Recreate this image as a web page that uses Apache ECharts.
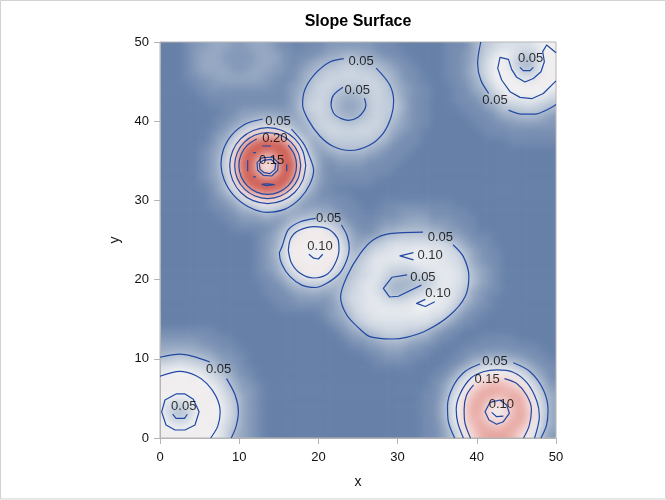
<!DOCTYPE html>
<html>
<head>
<meta charset="utf-8">
<style>html,body{margin:0;padding:0;background:#fff}#c{width:666px;height:500px}</style>
<script src="https://cdn.jsdelivr.net/npm/echarts@6/dist/echarts.min.js"></script>
</head>
<body>
<div id="c"></div>
<script>
// Surface values, in hundredths (one base-36 character per 1x1 cell), top row y=49-50 first
var surfaceRows = [
"000 12233322333 211 0 111 222222 111 000000 111356788889ab",
"000 12333222233 321 111 2 33 44 33 2 111 00000 1123579a9767ab",
"000 12333222233 321 1 2344566 5443 2 11 0000 112368ab8547ab",
"000 12333322333 221 2 3456677 6654 3 2 11 000 112468ab9657ab",
"000 11223333332 211 2 4567777 7765 4 2 11 000 112358aba989bb",
"000 01122222222 112 3 4677666 6776 4 3 21 1 00 0113469abbbbba",
"000 00111111111 112 3 5676544 5676 5 3 21 1 00 01123579aabaa8",
"000000 11111111 112 4 6776433 4676 6 4 21 1 00 01112457889876",
"00000000 112222 222 4 6776433 4676 6 4 21 1 00 00111235566654",
"0000000 1123344 433 3 5676544 5676 5 3 21 1 00 00011123344432",
"0000000 1234678 765 3 4677766 7776 4 3 21 1 00 00001111222222",
"000000 12358bef ec9 5 3567777 7765 3 2 11 0 00 00000111111111",
"000000 1348djmn mke 9 5346666 6654 2 1 11 0 00 00000000111111",
"00000 1236bjoon npk c 7334555 5432 1 1 10 0 00 00000000000000",
"00000 1247emojf inn f 9422333 3221 1 1 00 0 00 00000000000000",
"00000 1248fnnfd emp h a521222 2111 1 0 00 0 00 00000000000000",
"00000 1247emnie gnn g 9421111 1111 0 0 00 0 00 00000000000000",
"00000 1236ckpnm npl d 7421111 1100 0 0 00 0 00 00000000000000",
"000000 1359eknp nlf a 5311000 0000 0 0 00 0 00 00000000000000",
"000000 12359dfh gda 6 3211110 0000 0 0 00 0 00 00000000000000",
"000000 1123579a 975 3 2222111 0001 1 1 11 1 11 10000000000000",
"0000000 1123345 443 3 3433211 1011 1 2 22 2 11 11100000000000",
"00000000 112223 224 5 6665421 1112 2 2 33 3 22 21110000000000",
"000000000 11111 246 8 aba8642 1123 3 4 44 4 33 22110000000000",
"000000000000 12 358 c cccc853 2235 5 6 66 6 65 33211100000000",
"000000000000 12 36a c babca63 3567 8 8 88 8 88 75321100000000",
"000000000000 12 47b c a9acb74 5688 9 9 9a a 99 87532110000000",
"000000000000 12 36a c babca65 6899 9 9 9a 9 99 88632110000000",
"000000000000 12 358 c cccc855 7898 7 7 78 9 99 98743210000000",
"000000000000 11 246 8 aba8646 7897 6 5 56 7 89 99753210000000",
"0000000000000 1 124 5 6665457 8986 4 4 45 5 79 98753210000000",
"0000000000000 1 112 3 3433467 8986 4 4 56 8 99 98632110000000",
"00000000000000 111 2 2222468 8998 7 7 89 a a9 97532100000000",
"00000000000000 011 1 1112357 8999 9 9 9a a 99 86321100000000",
"00000000000000 000 0 0012346 8899 9 9 99 9 88 63211000000000",
"00000000000000 000 0 0001235 6888 8 8 88 8 75 32110000000000",
"11111110000000 000 0 0000123 4567 7 7 66 5 32 11000000000000",
"22222111100000 000 0 0000012 2345 5 5 43 3 21 10001111100000",
"33333221110000 000 0 0000001 1223 3 3 22 1 10 00111111111100",
"45554432211000 000 0 0000000 0112 2 2 11 1 00 01122333221110",
"77877653221000 000 0 0000000 0011 1 1 10 0 00 11245666543211",
"9aaa9875421100 000 0 0000000 0000 0 0 00 0 01 13579aaa975321",
"bbbbba87532100 000 0 0000000 0000 0 0 00 0 11 358adfffdb8531",
"bbbbbba8642210 000 0 0000000 0000 0 0 00 0 12 47beghihgfb742",
"baaabbb9753210 000 0 0000000 0000 0 0 00 1 12 59cgiihhihe953",
"a878abba863210 000 0 0000000 0000 0 0 00 1 13 6afhifefhifb63",
"96569bba863210 000 0 0000000 0000 0 0 00 1 13 6afiheacgigb73",
"a767abba863210 000 0 0000000 0000 0 0 00 1 13 6afhhfcehigb63",
"ba9abbb9753210 000 0 0000000 0000 0 0 00 1 12 59dgihghihea63",
"bbbbbba9743210 000 0 0000000 0000 0 0 00 1 12 47cfhiiihfb842"
];

// Contour lines, in data coordinates
var c2Outer = [[23.2,47.9],[21.5,47.5],[19.6,46],[18.3,44],[18,42.1],[18.7,40.2],[20.2,38.1],[21.9,36.8],[24,36.3],[26.5,37],[28.2,38.5],[29.2,40.6],[29.5,42.5],[29,44.6],[27.3,46.7]];
var c2Inner = [[23.1,44.3],[21.9,43.3],[21.6,42.1],[22.1,40.8],[23.8,40.1],[25,40.5],[25.8,41.4],[26,42.1],[25.8,42.9]];
var c3OuterA = [[40.5,50],[40.1,47.3],[40.5,45.2],[41.5,43.5]];
var c3OuterB = [[44,41.4],[45.67,40.9],[47.35,40.9],[49,41.5],[50,42.1]];
var c3Crescent = [[50,48.65],[48.82,49.62],[48.32,48.78],[48.53,47.5],[48.1,46.25],[47.14,45.4],[46.08,44.95],[45.04,45.54],[44.4,46.55],[44,47.8],[42.93,48.06],[42.64,46.67],[43.14,45.2],[44.19,43.73],[45.46,43.01],[46.93,42.84],[48.4,43.5],[50,45.1]];
var c3Arc = [[45.45,46.8],[45.87,46.38],[46.72,46.38],[47.14,46.8]];
var c1L05 = [[12.97,40.28],[10.9,39.7],[9.05,38.25],[8,36.4],[7.7,34.5],[8.1,32.6],[9.25,30.7],[11.15,29.2],[13.47,28.5],[15.8,28.9],[17.7,30.25],[18.9,32],[19.4,33.8],[18.9,35.5],[18.1,37.2],[16.6,39]];
var c1L10 = [[18.4,34.4],[18.03,36.24],[17,37.8],[15.44,38.83],[13.6,39.2],[11.76,38.83],[10.2,37.8],[9.17,36.24],[8.8,34.4],[9.17,32.56],[10.2,31],[11.76,29.97],[13.6,29.6],[15.44,29.97],[17,31],[18.03,32.56],[18.4,34.4]];
var c1L15 = [[17.77,34.4],[17.45,36],[16.55,37.35],[15.2,38.25],[13.6,38.57],[12,38.25],[10.65,37.35],[9.75,36],[9.43,34.4],[9.75,32.8],[10.65,31.45],[12,30.55],[13.6,30.23],[15.2,30.55],[16.55,31.45],[17.45,32.8],[17.77,34.4]];
var c1L20 = [[12.21,37.76],[11.03,36.97],[10.24,35.79],[9.96,34.4],[10.24,33.01],[11.03,31.83],[12.21,31.04],[13.6,30.76],[14.99,31.04],[16.17,31.83],[16.96,33.01],[17.24,34.4],[16.96,35.79],[16.17,36.97]];
var c1HoleOuter = [[12.84,35.36],[14.19,35.48],[14.94,34.77],[14.86,33.8],[14.1,33.08],[13.05,33.17],[12.33,33.8],[12.25,34.77],[12.84,35.36]];
var c1HoleInner = [[13.05,35.06],[14.02,35.19],[14.61,34.64],[14.52,33.92],[13.89,33.38],[13.17,33.5],[12.63,33.92],[12.54,34.64],[13.05,35.06]];
var c1DashLeft = [[11.07,35.06],[11.07,33.67]];
var c1DashRight = [[16,34.56],[16,33.67]];
var c1DashTop = [[12.92,36.87],[14.02,36.87]];
var c1DashBottom = [[12.84,32.03],[13.47,32.1],[14.44,31.99],[13.47,31.86],[12.84,32.03]];
var c1DotUpper = [[11.76,36.03],[11.91,36.18],[12.06,36.03],[11.91,35.88],[11.76,36.03]];
var c1DotLower = [[11.76,32.96],[11.91,33.11],[12.06,32.96],[11.91,32.81],[11.76,32.96]];
var c4Outer = [[19.66,27.74],[17.7,27.3],[16.2,26.3],[15.4,24.15],[15.07,23.3],[15.4,21.9],[16.4,20.4],[17.9,19.3],[19.6,19],[21,19.5],[22.7,20.8],[23.6,22.5],[23.9,24],[23.6,25.6],[22.9,26.9]];
var c4Ring = [[16.2,23.7],[16.6,22.1],[17.7,20.8],[19.4,20.2],[21,20.6],[22,21.8],[22.6,23.7],[22.5,25],[21.4,26.3],[19.5,26.7],[17.5,26.2],[16.5,25.2],[16.2,23.7]];
var c4Arc = [[18.8,23.2],[19.4,22.7],[20,22.6],[20.55,23.2]];
var c5Outer = [[33.2,26],[29,25.8],[26.9,25],[25.3,23.3],[23.6,20.4],[22.8,17.8],[23.6,15.5],[25.3,13.7],[26.5,12.8],[29.3,12.5],[31.1,12.7],[33.7,13.6],[36.6,15.5],[38.5,17.8],[39,20.4],[38.3,22.9],[37,24.4]];
var c5Upper = [[32,23.4],[30.3,23],[32,22.5]];
var c5Lower = [[34.7,17.2],[33.5,16.6],[32.4,17],[33.5,17.5]];
var c5Inner = [[31.2,20.6],[29.3,20.3],[28.2,18.9],[29,17.8],[30.1,17.9],[33,19.3]];
var c6OuterA = [[0,10.2],[2.5,10.6],[6.3,9.6]];
var c6OuterB = [[8.4,7.5],[9.5,5.4],[9.9,3.3],[9.6,1.43],[9,0]];
var c6L10 = [[0,7.8],[2.5,8.4],[4.5,7.9],[5.9,6.9],[7.1,5.2],[7.6,3.3],[7.3,1.5],[6.4,0]];
var c6Hole = [[2.02,5.56],[3.16,5.56],[4.2,4.9],[4.93,3.3],[4.42,1.64],[3.16,1.01],[1.9,1.01],[0.76,1.64],[0.21,3.3],[0.63,4.8],[2.02,5.56]];
var c6Arc = [[1.6,3],[2.02,2.48],[3.1,2.48],[3.45,3]];
var c7OuterA = [[40.4,9.35],[38.5,8.4],[37,6.5],[36.3,4],[36.4,2.1],[37.2,0]];
var c7OuterB = [[44.6,9.5],[46.7,8.4],[48.4,6.1],[49,3.5],[48.8,1.6],[48.1,0]];
var c7L10 = [[38.3,0],[37.6,1.9],[37.4,3.6],[37.9,5.6],[39.3,7.6],[40.9,8.4],[42.5,8.6],[44.6,8.3],[46.4,6.9],[47.6,4.6],[47.9,2.7],[47.3,0]];
var c7L15A = [[43.5,7.5],[45,6.9],[46.3,5.4],[46.9,3.6],[46.6,1.5],[45.9,0]];
var c7L15B = [[39.2,0],[38.5,1.9],[38.4,3.6],[38.7,5.4],[39.6,6.7]];
var c7Hole = [[41.66,4.5],[42.93,4.8],[43.77,4.17],[44.11,3.12],[43.35,2.06],[42.5,1.73],[41.54,2.27],[41.04,3.32],[41.66,4.5]];
var c7Arc = [[41.88,3.24],[42.5,2.69],[43.35,2.77]];

var smoothContours = [c2Outer,c2Inner,c3OuterA,c3OuterB,c1L05,c1L10,c1L15,c1L20,c4Outer,c4Ring,c5Outer,c6OuterA,c6OuterB,c6L10,c7OuterA,c7OuterB,c7L10,c7L15A,c7L15B];
var sharpContours = [c3Crescent,c3Arc,c1HoleOuter,c1HoleInner,c1DashLeft,c1DashRight,c1DashTop,c1DashBottom,c1DotUpper,c1DotLower,c4Arc,c5Upper,c5Lower,c5Inner,c6Hole,c6Arc,c7Hole,c7Arc];

var contourLabels = [
[25.4,47.6,"0.05"],[24.9,43.9,"0.05"],[46.8,47.9,"0.05"],[42.3,42.6,"0.05"],[14.9,40,"0.05"],[14.5,37.8,"0.20"],[14.1,35.1,"0.15"],
[21.3,27.7,"0.05"],[20.2,24.2,"0.10"],[35.4,25.3,"0.05"],[34.1,23,"0.10"],[33.2,20.3,"0.05"],[35.1,18.3,"0.10"],
[7.4,8.6,"0.05"],[3,4,"0.05"],[42.3,9.7,"0.05"],[41.3,7.4,"0.15"],[43.1,4.2,"0.10"]
];

var parsed = surfaceRows.map(function (r) {
  var s = r.replace(/ /g, '');
  if (s.length !== 50) throw new Error('row length ' + s.length + ': ' + r);
  return s;
}).reverse();
// hidden outer ring of cells repeats the edge so the soft surface stays even up to the frame
var cells = [], cats = [];
for (var k = 0; k < 52; k++) cats.push(String(k));
for (var j = -1; j <= 50; j++) {
  for (var i = -1; i <= 50; i++) {
    var jj = Math.max(0, Math.min(49, j)), ii = Math.max(0, Math.min(49, i));
    cells.push([i + 1, j + 1, parseInt(parsed[jj].charAt(ii), 36) / 100]);
  }
}

var U = 7.92, L = 160, T = 42, S = 396;
var series = [{
  type: 'heatmap', xAxisIndex: 0, yAxisIndex: 0, data: cells, zlevel: 0,
  progressive: 0, animation: false, emphasis: {disabled: true}
}];
function addContour(c, smooth) {
  series.push({
    type: 'line', xAxisIndex: 1, yAxisIndex: 1, data: c, symbol: 'none', zlevel: 1, z: 5, animation: false,
    smooth: smooth, lineStyle: {color: '#2148a3', width: 1.2, join: 'round'}, emphasis: {disabled: true}, clip: true
  });
}
smoothContours.forEach(function (c) { addContour(c, 0.3); });
sharpContours.forEach(function (c) { addContour(c, false); });
series.push({
  type: 'scatter', xAxisIndex: 1, yAxisIndex: 1, data: contourLabels, symbol: 'circle', symbolSize: 1, zlevel: 1, z: 6,
  animation: false, itemStyle: {color: 'rgba(0,0,0,0)'},
  label: {show: true, position: 'inside', color: '#000', fontFamily: 'Liberation Sans', fontSize: 13,
    formatter: function (p) { return p.value[2]; }}
});

var axisBase = {
  type: 'value', min: 0, max: 50, interval: 10, zlevel: 1,
  axisLine: {show: true, onZero: false, lineStyle: {color: '#b4b4b4', width: 1}},
  axisTick: {show: true, length: 6, lineStyle: {color: '#b4b4b4'}},
  axisLabel: {color: '#111', fontFamily: 'Liberation Sans', fontSize: 13, margin: 11},
  splitLine: {show: false},
  nameLocation: 'middle',
  nameTextStyle: {color: '#111', fontFamily: 'Liberation Sans', fontSize: 14}
};
var chart = echarts.init(document.getElementById('c'), null, {renderer: 'canvas'});
chart.setOption({
  animation: false,
  title: {text: 'Slope Surface', left: 358, top: 14, textAlign: 'center', zlevel: 1, padding: 0,
    textStyle: {fontFamily: 'Liberation Sans', fontSize: 16, fontWeight: 'bold', color: '#000'}},
  graphic: [{type: 'rect', zlevel: 1, silent: true, shape: {x: 0.5, y: 0.5, width: 665, height: 498.5},
    style: {fill: 'none', stroke: '#d2d2d2', lineWidth: 1}}],
  grid: [
    {left: L - U, top: T - U, width: S + 2 * U, height: S + 2 * U, show: false, containLabel: false},
    {left: L, top: T, width: S, height: S, show: true, backgroundColor: 'transparent', borderColor: '#b4b4b4', borderWidth: 1, zlevel: 1}
  ],
  xAxis: [
    {type: 'category', data: cats, gridIndex: 0, show: false},
    Object.assign({}, axisBase, {gridIndex: 1, name: 'x', nameGap: 37, position: 'bottom',
      axisLabel: Object.assign({}, axisBase.axisLabel, {margin: 13})})
  ],
  yAxis: [
    {type: 'category', data: cats, gridIndex: 0, show: false},
    Object.assign({}, axisBase, {gridIndex: 1, name: 'y', nameGap: 38, position: 'left'})
  ],
  visualMap: {type: 'continuous', show: false, min: 0, max: 0.25, dimension: 2, seriesIndex: 0,
    inRange: {color: ['#6680a8', '#b4c1d3', '#f0f2f4', '#f5d8d6', '#dc7f76', '#c64f46']}},
  series: series
});
// Soften the surface layer only; the axes, contours and labels sit on their own layer above it
var layer = chart.getDom().querySelectorAll('canvas')[0];
layer.style.filter = 'blur(4px)';
layer.style.clipPath = 'inset(' + T + 'px ' + (666 - L - S) + 'px ' + (500 - T - S) + 'px ' + L + 'px)';
</script>
</body>
</html>
